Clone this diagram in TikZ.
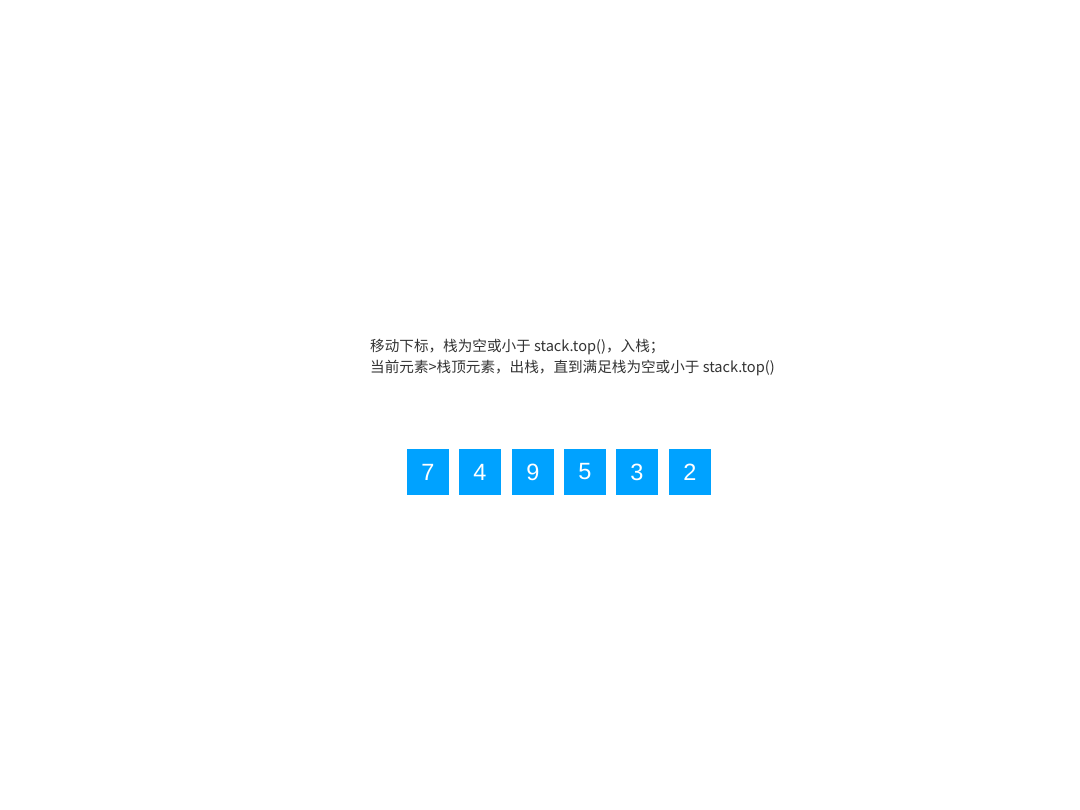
\documentclass[tikz,border=0pt]{standalone}
\usepackage{fontspec}
\setmainfont{Liberation Sans}
\newfontfamily\cjk{Noto Sans CJK SC}
\definecolor{boxblue}{HTML}{00A2FF}
\definecolor{txtgray}{HTML}{333333}
\begin{document}
\begin{tikzpicture}[x=1bp,y=-1bp,
  cell/.style={fill=boxblue,draw=none,minimum width=42bp,minimum height=46bp,inner sep=0pt,text=white,font=\fontsize{23.5bp}{26bp}\selectfont},
  note/.style={anchor=west,inner sep=0pt,text=txtgray,font=\cjk\fontsize{14.6bp}{17bp}\selectfont}]
\useasboundingbox (0,0) rectangle (1080,810);
\node[note] (t1) at (370,347) {移动下标，栈为空或小于 stack.top()，入栈；};
\node[note] (t2) at (370,368) {当前元素>栈顶元素，出栈，直到满足栈为空或小于 stack.top()};
\node[cell] (c1) at (428,472) {7};
\node[cell] (c2) at (480,472) {4};
\node[cell] (c3) at (533,472) {9};
\node[cell] (c4) at (585,472) {5};
\node[cell] (c5) at (637,472) {3};
\node[cell] (c6) at (690,472) {2};
\end{tikzpicture}
\end{document}
